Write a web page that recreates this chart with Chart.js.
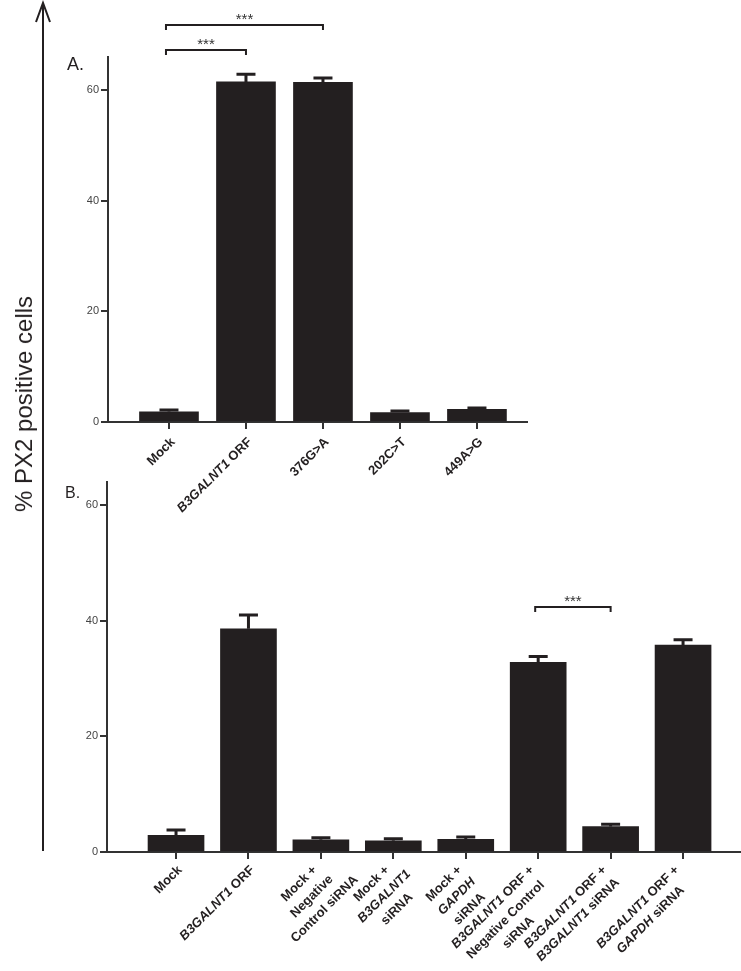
<!DOCTYPE html>
<html>
<head>
<meta charset="utf-8">
<script src="https://cdn.jsdelivr.net/npm/chart.js@4.4.1/dist/chart.umd.min.js"></script>
<style>
    body { margin: 0; background: #fff; }
    #wrap { position: relative; width: 741px; height: 971px; overflow: hidden; }
    canvas { position: absolute; left: 0; top: 0; }
    .txt { position: absolute; font-family: "Liberation Sans", Arial, sans-serif; color: #231f20; line-height: 1; white-space: nowrap; }
    #ylabel { left: 24px; top: 404px; font-size: 24px; transform: translate(-50%, -50%) rotate(-90deg); }
</style>
</head>
<body>
<div id="wrap">
    <canvas id="chartA" width="741" height="971"></canvas>
    <canvas id="chartB" width="741" height="971"></canvas>
    <div class="txt" id="ylabel">% PX2 positive cells</div>
    <div class="txt" style="left:67px; top:55px; font-size:18px;">A.</div>
    <div class="txt" style="left:65px; top:485px; font-size:16px;">B.</div>
</div>
<script>
// panel A
const labelsA = [["Mock"], ["*B3GALNT1* ORF"], ["376G>A"], ["202C>T"], ["449A>G"]];
const meansA = [1.85, 61.5, 61.4, 1.7, 2.3];
const errorsA = [0.3, 1.4, 0.8, 0.3, 0.25];
const sigA = [[0, 1, 67.3], [0, 2, 71.8]]; // from bar, to bar, bracket level
const yTicksA = [0, 20, 40, 60];

// panel B
const labelsB = [
    ["Mock"],
    ["*B3GALNT1* ORF"],
    ["Mock +", "Negative", "Control siRNA"],
    ["Mock +", "*B3GALNT1*", "siRNA"],
    ["Mock +", "*GAPDH*", "siRNA"],
    ["*B3GALNT1* ORF +", "Negative Control", "siRNA"],
    ["*B3GALNT1* ORF +", "*B3GALNT1* siRNA"],
    ["*B3GALNT1* ORF +", "*GAPDH* siRNA"]
];
const meansB = [2.9, 38.6, 2.1, 1.95, 2.2, 32.8, 4.4, 35.8];
const errorsB = [0.9, 2.4, 0.35, 0.35, 0.4, 1.0, 0.4, 0.9];
const sigB = [[5, 6, 42.4]];
const yTicksB = [0, 20, 40, 60];

const INK = "#231f20";
const FONT = '"Liberation Sans", Arial, sans-serif';

function segments(line) {
    return line.split("*").map((t, i) => ({ t, it: i % 2 === 1 })).filter(s => s.t);
}

function lineWidth(ctx, line, size) {
    let w = 0;
    segments(line).forEach(s => {
        ctx.font = (s.it ? "italic " : "") + "bold " + size + "px " + FONT;
        w += ctx.measureText(s.t).width;
    });
    return w;
}

// first line ends at (x, y); later lines are centred on the first one
function drawLabel(ctx, lines, x, y, size, lh) {
    ctx.save();
    ctx.translate(x, y);
    ctx.rotate(-Math.PI / 4);
    ctx.textBaseline = "middle";
    ctx.textAlign = "left";
    ctx.fillStyle = INK;
    const w0 = lineWidth(ctx, lines[0], size);
    lines.forEach((line, i) => {
        const w = lineWidth(ctx, line, size);
        let lx = -w0 / 2 - w / 2;
        const ly = i * lh;
        segments(line).forEach(s => {
            ctx.font = (s.it ? "italic " : "") + "bold " + size + "px " + FONT;
            ctx.fillText(s.t, lx, ly);
            lx += ctx.measureText(s.t).width;
        });
    });
    ctx.restore();
}

const overlay = {
    id: "overlay",
    afterDatasetsDraw(chart, args, opts) {
        const ctx = chart.ctx;
        const xs = chart.scales.x, ys = chart.scales.y;
        const means = chart.data.datasets[0].data;
        ctx.save();
        ctx.strokeStyle = INK;
        ctx.lineWidth = 3;
        opts.errors.forEach((e, i) => {
            const x = xs.getPixelForValue(means[i].x);
            const y0 = ys.getPixelForValue(means[i].y);
            const y1 = ys.getPixelForValue(means[i].y + e);
            ctx.beginPath();
            ctx.moveTo(x, y0);
            ctx.lineTo(x, y1);
            ctx.moveTo(x - 9.5, y1);
            ctx.lineTo(x + 9.5, y1);
            ctx.stroke();
        });
        ctx.restore();
    },
    afterDraw(chart, args, opts) {
        const ctx = chart.ctx;
        const xs = chart.scales.x, ys = chart.scales.y;
        const axisY = chart.chartArea.bottom;

        opts.labels.forEach((lines, i) => {
            const dx = lines.length > 1 ? opts.dxMulti : opts.dx;
            drawLabel(ctx, lines, xs.getPixelForValue(i) + dx, axisY + opts.dy, 13, opts.lh);
        });

        ctx.save();
        ctx.strokeStyle = INK;
        ctx.fillStyle = "#333";
        ctx.lineWidth = 2;
        opts.sig.forEach(([a, b, lvl]) => {
            const x1 = xs.getPixelForValue(a) - 3, x2 = xs.getPixelForValue(b);
            const y = Math.round(ys.getPixelForValue(lvl));
            ctx.beginPath();
            ctx.moveTo(x1, y + 5);
            ctx.lineTo(x1, y);
            ctx.lineTo(x2, y);
            ctx.lineTo(x2, y + 5);
            ctx.stroke();
            ctx.font = "15px " + FONT;
            ctx.textAlign = "center";
            ctx.textBaseline = "alphabetic";
            ctx.fillText("***", (x1 + x2) / 2, y - 1);
        });

        if (opts.arrow) {
            ctx.lineWidth = 2;
            ctx.beginPath();
            ctx.moveTo(43, 3);
            ctx.lineTo(43, 851);
            ctx.moveTo(36, 22);
            ctx.lineTo(43, 3);
            ctx.lineTo(50, 22);
            ctx.stroke();
        }
        ctx.restore();
    }
};

function makeChart(id, labels, means, errors, sig, yTicks, o) {
    return new Chart(document.getElementById(id), {
        type: "bar",
        data: {
            datasets: [{
                data: means.map((v, i) => ({ x: i, y: v })),
                backgroundColor: INK,
                borderWidth: 0,
                barThickness: o.barW
            }]
        },
        options: {
            responsive: false,
            animation: false,
            layout: { padding: { left: 0, top: o.top, right: 741 - o.right, bottom: 0 } },
            plugins: {
                legend: { display: false },
                tooltip: { enabled: false },
                overlay: { labels, errors, sig, arrow: o.arrow, dx: o.dx, dxMulti: o.dxMulti, dy: o.dy, lh: o.lh }
            },
            scales: {
                x: {
                    type: "linear",
                    offset: false,
                    min: o.xMin,
                    max: o.xMax,
                    afterBuildTicks: s => { s.ticks = labels.map((_, i) => ({ value: i })); },
                    afterFit: s => { s.height = 971 - o.bottom; },
                    ticks: { display: false },
                    grid: { offset: false, drawOnChartArea: false, drawTicks: true, tickLength: 7, color: "#333", lineWidth: 2 },
                    border: { display: true, color: "#333", width: 2 }
                },
                y: {
                    min: 0,
                    max: o.yMax,
                    afterBuildTicks: s => { s.ticks = yTicks.map(v => ({ value: v })); },
                    afterFit: s => { s.width = o.left; },
                    ticks: { color: "#444", font: { size: 11, family: FONT }, padding: 2 },
                    grid: { drawOnChartArea: false, drawTicks: true, tickLength: 7, color: "#333", lineWidth: 2 },
                    border: { display: true, color: "#333", width: 2 }
                }
            }
        },
        plugins: [overlay]
    });
}

makeChart("chartA", labelsA, meansA, errorsA, sigA, yTicksA,
    { left: 108, right: 527, top: 57, bottom: 422, yMax: 66, xMin: -0.792, xMax: 4.65, barW: 59, arrow: true,
      dx: 4, dxMulti: 4, dy: 18, lh: 18 });
makeChart("chartB", labelsB, meansB, errorsB, sigB, yTicksB,
    { left: 107, right: 741, top: 482, bottom: 852, yMax: 64, xMin: -0.953, xMax: 7.8, barW: 56, arrow: false,
      dx: 4, dxMulti: -6, dy: 16, lh: 18 });
</script>
</body>
</html>
